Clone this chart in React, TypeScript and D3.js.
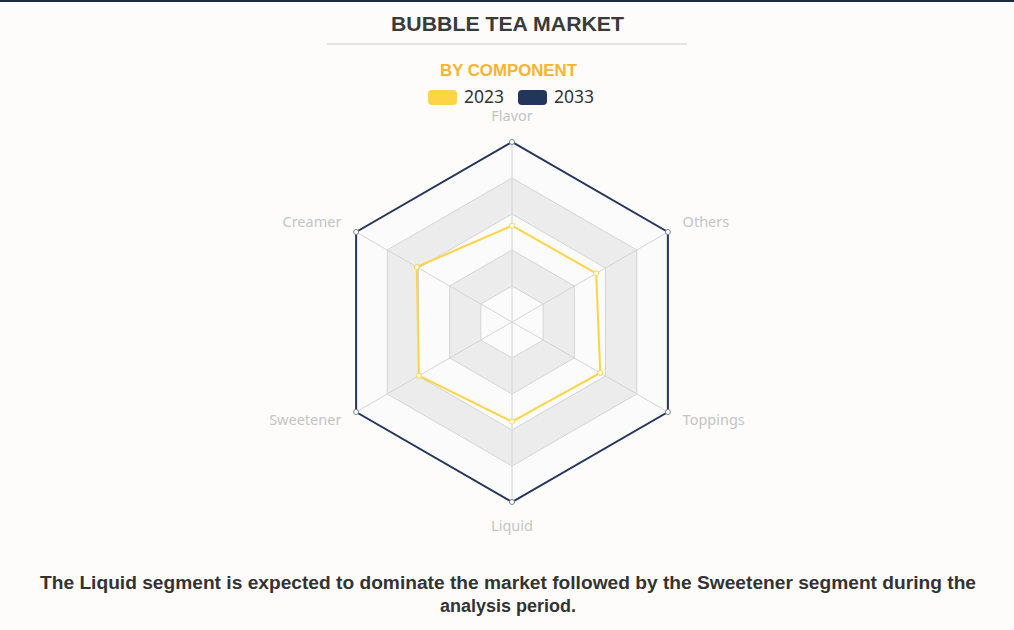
import React from "react";
import * as d3 from "d3";

// indicator order follows the radar's counter-clockwise layout, starting at the top
const components = ["Flavor", "Creamer", "Sweetener", "Liquid", "Toppings", "Others"];
const values2023 = [53.5, 61.1, 59.7, 55.4, 56.6, 54.0];
const values2033 = [100, 100, 100, 100, 100, 100];
const years = ["2023", "2033"];
const yearColors = ["#fdd445", "#22355a"];

const W = 1014;
const H = 630;
const cx = 512;
const cy = 322;
const R = 180;
const splits = 5;

const angle = (i: number) => -Math.PI / 2 - (i * 2 * Math.PI) / components.length;

const App = () => {
  const r = d3.scaleLinear().domain([0, 100]).range([0, R]);
  const pt = (i: number, v: number): [number, number] => [
    cx + r(v) * Math.cos(angle(i)),
    cy + r(v) * Math.sin(angle(i)),
  ];
  const ring = (v: number) => components.map((_, i) => pt(i, v));
  const line = d3.line().curve(d3.curveLinearClosed);

  const ringSteps = d3.range(splits + 1).map((k) => (k * 100) / splits);

  return (
    <svg width={W} height={H} style={{ position: "absolute", left: 0, top: 0, background: "#fdfcfb" }}>
      <rect x={0} y={0} width={W} height={2} fill="#1e2a3f" />

      <text x={391} y={31} textLength={233} lengthAdjust="spacingAndGlyphs" fontFamily="Liberation Sans, Arial" fontWeight="bold" fontSize={20} fill="#3a3a3a">
        BUBBLE TEA MARKET
      </text>
      <line x1={327} x2={687} y1={44} y2={44} stroke="#dcdcdc" strokeWidth={1.5} />
      <text x={440} y={76} textLength={137} lengthAdjust="spacingAndGlyphs" fontFamily="Liberation Sans, Arial" fontWeight="bold" fontSize={16} fill="#f7b331">
        BY COMPONENT
      </text>

      {years.map((y, k) => (
        <g key={y} transform={`translate(${428 + k * 90},90)`}>
          <rect width={29} height={15} rx={4} fill={yearColors[k]} />
          <text x={36} y={13} fontFamily="Noto Sans, sans-serif" fontSize={17.5} fill="#333">
            {y}
          </text>
        </g>
      ))}

      {/* split areas, outermost first */}
      {ringSteps
        .slice(1)
        .reverse()
        .map((v) => {
          const k = Math.round(v / (100 / splits)) - 1;
          return (
            <path
              key={v}
              d={line(ring(v)) as string}
              fill={k % 2 === 0 ? "#fbfbfb" : "#ececec"}
              stroke="none"
            />
          );
        })}
      {ringSteps.slice(1).map((v) => (
        <path key={"l" + v} d={line(ring(v)) as string} fill="none" stroke="#d4d4d4" strokeWidth={1} />
      ))}
      {components.map((_, i) => {
        const [x, y] = pt(i, 100);
        return <line key={"a" + i} x1={cx} y1={cy} x2={x} y2={y} stroke="#d4d4d4" strokeWidth={1} />;
      })}

      {[values2033, values2023].map((vals, s) => {
        const color = s === 0 ? yearColors[1] : yearColors[0];
        const pts = vals.map((v, i) => pt(i, v));
        return (
          <g key={"s" + s}>
            <path d={line(pts) as string} fill="none" stroke={color} strokeWidth={2} />
            {pts.map(([x, y], i) => (
              <circle key={i} cx={x} cy={y} r={2.5} fill="#fff" stroke={s === 0 ? "#7a8290" : "#fdd445"} strokeWidth={1} />
            ))}
          </g>
        );
      })}

      {components.map((c, i) => {
        const a = angle(i);
        const [x, y] = pt(i, 100);
        const cos = Math.cos(a);
        const sin = Math.sin(a);
        const anchor = Math.abs(cos) < 0.01 ? "middle" : cos > 0 ? "start" : "end";
        const lx = x + cos * 17;
        const ly = Math.abs(cos) < 0.01 ? y + (sin < 0 ? -21 : 29) : sin < 0 ? y - 5 : y + 13;
        return (
          <text key={c} x={lx} y={ly} textAnchor={anchor} fontFamily="Noto Sans, sans-serif" fontSize={14.5} fill="#c4c4c4">
            {c}
          </text>
        );
      })}

      <text fontFamily="Liberation Sans, Arial" fontWeight="bold" fontSize={18} fill="#333">
        <tspan x={40} y={589} textLength={936} lengthAdjust="spacingAndGlyphs">
          The Liquid segment is expected to dominate the market followed by the Sweetener segment during the
        </tspan>
        <tspan x={508} y={612} textAnchor="middle">
          analysis period.
        </tspan>
      </text>
    </svg>
  );
};

export default App;
